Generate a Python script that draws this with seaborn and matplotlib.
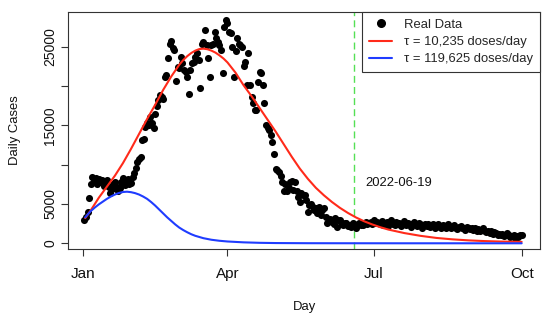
import matplotlib
matplotlib.use("Agg")
import matplotlib.pyplot as plt
import seaborn as sns
from matplotlib.lines import Line2D

sns.set_style("ticks")
plt.rcParams['font.family'] = ['Liberation Sans', 'DejaVu Sans']

# ---------------- data ----------------
case_days = list(range(1, 274))  # days since 2022-01-01
daily_cases = [
    3000, 3300, 4000, 5800, 7600, 8400, 7900, 8300, 7500, 8200,
    7800, 8100, 7300, 7700, 8000, 7100, 6400, 6900, 7500, 7800,
    7200, 6700, 7000, 7800, 8300, 7400, 7700, 8200, 7500, 7700,
    8400, 8900, 9600, 10300, 10700, 11000, 13100, 13200, 14800, 15300,
    15000, 16100, 15300, 14600, 16500, 17400, 18200, 18900, 18600, 18300,
    21200, 21400, 23500, 25400, 25700, 24800, 24600, 20600, 22400, 22300,
    23700, 22900, 22000, 21800, 21200, 19000, 22000, 22900, 23100, 23700,
    24200, 23300, 19700, 25400, 25600, 27100, 25200, 23500, 21200, 25200,
    25400, 26900, 26100, 25600, 25200, 24600, 21600, 27500, 28400, 28000,
    26900, 26700, 25000, 21200, 24400, 26100, 25400, 25200, 25000, 22500,
    23100, 20100, 24200, 20100, 18600, 17800, 17000, 16900, 20500, 21800,
    21600, 20100, 17800, 15000, 14600, 14400, 13800, 12900, 11400, 9500,
    9300, 9100, 8500, 7800, 6600, 7600, 6600, 7000, 7800, 7900,
    6800, 7800, 6600, 5900, 5300, 6400, 6100, 6100, 5500, 4000,
    4900, 5000, 4650, 4200, 4500, 3800, 4650, 3600, 4200, 4450,
    3400, 2540, 2960, 3100, 2750, 2500, 3200, 2100, 2900, 2960,
    2400, 2330, 2600, 2540, 2200, 2330, 2100, 2540, 2300, 2000,
    2500, 2540, 2300, 2330, 2600, 2750, 2400, 2600, 2750, 2500,
    2900, 2540, 2700,
    2600, 2400, 2800, 2300, 2500, 2700, 2200, 2600, 2900, 2500,
    2300, 2700, 2400, 2600, 2200, 2500, 2800,
    2300, 2600, 2400, 2100, 2500, 2700, 2300, 2200, 2600, 2400,
    2000, 2300, 2500, 2200, 2400, 2100, 2300, 2500, 2000, 2200,
    2400, 2100, 1900, 2300, 2200, 2000, 2400, 2100, 1900, 2200,
    2300, 2000, 1800, 2100, 2200, 1900, 2000, 1700, 2100, 1900,
    1800, 2000, 1700, 1900, 1600, 1800, 1500, 1700, 1900, 1500,
    1400, 1600, 1300, 1500, 1200, 1400, 1300, 1100, 1200, 1000,
    1200, 900, 1100, 1300, 1000, 800, 900, 1100, 700, 900,
    800, 1000, 1100,
]

red_days = [1.5, 5, 10, 15, 20, 25, 30, 35, 40, 45, 50, 55, 60, 62.5, 65, 67.5,
            70, 72.5, 75, 77.5, 80, 82.5, 85, 87.5, 90, 95, 100, 105, 110, 115,
            120, 125, 130, 135, 140, 145, 150, 155, 160, 165, 170, 175, 180,
            185, 190, 200, 210, 220, 230, 240, 250, 260, 273]
red_vals = [3200, 4200, 5800, 7200, 8600, 10200, 12000, 13900, 15800, 17600,
            19500, 21200, 22700, 23300, 23800, 24200, 24500, 24700, 24750,
            24680, 24500, 24250, 23900, 23500, 23000, 21700, 20100, 18700,
            17200, 15700, 14200, 12600, 11000, 9500, 8200, 7050, 6100, 5250,
            4500, 3850, 3280, 2800, 2400, 2050, 1750, 1300, 950, 680, 500, 370,
            280, 220, 180]

blue_days = [1.5, 3, 5, 7.5, 10, 12.5, 15, 17.5, 20, 22.5, 25, 27.5, 30, 32.5,
             35, 37.5, 40, 42.5, 45, 47.5, 50, 52.5, 55, 57.5, 60, 62.5, 65,
             67.5, 70, 75, 80, 85, 90, 100, 110, 120, 140, 160, 200, 273]
blue_vals = [3300, 3650, 4100, 4550, 4950, 5300, 5650, 5950, 6200, 6400, 6520,
             6560, 6500, 6380, 6200, 5950, 5650, 5250, 4800, 4300, 3800, 3300,
             2850, 2400, 2000, 1680, 1400, 1150, 950, 650, 450, 320, 230, 120,
             60, 30, 10, 5, 0, 0]

month_ticks = [0, 90, 181, 273]
month_labels = ["Jan", "Apr", "Jul", "Oct"]
y_ticks = [0, 5000, 10000, 15000, 20000, 25000]
y_labels = ["0", "5000", "", "15000", "", "25000"]
marker_day = 169
marker_label = "2022-06-19"
legend_labels = ["Real Data", "\u03c4 = 10,235 doses/day", "\u03c4 = 119,625 doses/day"]

RED = "#ff2a1a"
BLUE = "#1f3cff"
GREEN = "#55e055"

# ---------------- figure ----------------
fig = plt.figure(figsize=(5.5, 3.17), dpi=100)
ax = fig.add_axes([0.1242, 0.2136, 0.8576, 0.7495])

sns.scatterplot(x=case_days, y=daily_cases, ax=ax, color="black", s=26,
                linewidth=0, zorder=2, legend=False)
sns.lineplot(x=red_days, y=red_vals, ax=ax, color=RED, lw=1.5, zorder=3,
             legend=False)
sns.lineplot(x=blue_days, y=blue_vals, ax=ax, color=BLUE, lw=1.5, zorder=3,
             legend=False)
ax.axvline(marker_day, color=GREEN, lw=1.0, dashes=(5, 3), zorder=1)
ax.text(marker_day + 6.5, 7700, marker_label, fontsize=9.4, ha="left",
        va="center", color="#111111")

ax.set_xlim(-9, 284.4)
ax.set_ylim(-763, 29450)
ax.set_xticks(month_ticks)
ax.set_xticklabels(month_labels, fontsize=11)
ax.set_yticks(y_ticks)
ax.set_yticklabels(y_labels, fontsize=10, rotation=90, va="center")

for sp in ax.spines.values():
    sp.set_visible(True)
    sp.set_color("#333333")
    sp.set_linewidth(0.8)
ax.tick_params(axis="both", direction="out", length=5, width=0.8,
               color="#333333", labelcolor="#111111")
ax.tick_params(axis="x", pad=8)
ax.tick_params(axis="y", pad=3)

ax.set_xlabel("Day", fontsize=9.4, color="#111111")
ax.set_ylabel("Daily Cases", fontsize=9.4, color="#111111")
ax.xaxis.set_label_coords(0.5, -0.245)
ax.xaxis.label.set_va("center")
ax.yaxis.set_label_coords(-0.112, 0.5)
ax.yaxis.label.set_va("center")

handles = [
    Line2D([], [], marker="o", color="black", markersize=5.5, linestyle="none"),
    Line2D([], [], color=RED, lw=1.5),
    Line2D([], [], color=BLUE, lw=1.5),
]
leg = ax.legend(handles, legend_labels, loc="upper right", fontsize=9.4,
                frameon=True, fancybox=False, borderaxespad=0,
                handlelength=1.75, handletextpad=0.9, labelspacing=0.38,
                borderpad=0.55)
leg.get_frame().set_edgecolor("#333333")
leg.get_frame().set_linewidth(0.8)
leg.get_frame().set_alpha(1)

fig.savefig("out.png", dpi=100)
